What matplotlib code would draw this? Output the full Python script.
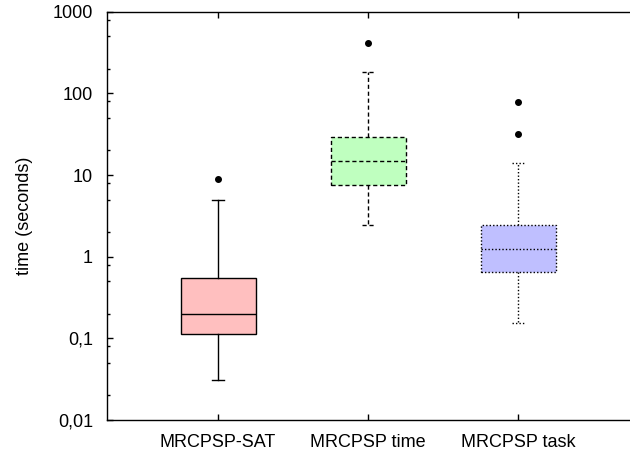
import matplotlib
matplotlib.use("Agg")
import matplotlib.pyplot as plt
from matplotlib.ticker import LogLocator, FixedLocator, FixedFormatter, NullFormatter

plt.rcParams['font.family'] = ['Liberation Sans', 'DejaVu Sans']

labels = ["MRCPSP-SAT", "MRCPSP time", "MRCPSP task"]
whislo = [0.0306, 2.44, 0.153]
q1 = [0.113, 7.55, 0.649]
med = [0.199, 14.7, 1.23]
q3 = [0.548, 29.2, 2.44]
whishi = [4.9, 183, 14.2]
fliers = [[8.9], [417], [79, 31.8]]

colors = ["#ffbfbf", "#bfffbf", "#bfbfff"]
styles = ["-", (0, (3, 2)), (0, (1, 1.5))]

stats = []
for i in range(3):
    stats.append(dict(label=labels[i], whislo=whislo[i], q1=q1[i], med=med[i],
                      q3=q3[i], whishi=whishi[i], fliers=fliers[i]))

fig = plt.figure(figsize=(6.3, 4.5), dpi=100)
ax = fig.add_axes([107/630, 30/450, 522/630, 408.3/450])

for i in range(3):
    ls = styles[i]
    ax.bxp([stats[i]], positions=[i + 1], widths=0.5, patch_artist=True,
           capwidths=0.08,
           boxprops=dict(facecolor=colors[i], edgecolor="black", linewidth=1, linestyle=ls),
           medianprops=dict(color="black", linewidth=1, linestyle=ls),
           whiskerprops=dict(color="black", linewidth=1, linestyle=ls),
           capprops=dict(color="black", linewidth=1, linestyle=ls),
           flierprops=dict(marker="o", markerfacecolor="black", markeredgecolor="black",
                           markersize=4, linestyle="none"))

ax.set_yscale("log")
ax.set_ylim(0.01, 1000)
ax.set_xlim(0.26, 3.74)

ax.yaxis.set_major_locator(FixedLocator([0.01, 0.1, 1, 10, 100, 1000]))
ax.yaxis.set_major_formatter(FixedFormatter(["0,01", "0,1", "1", "10", "100", "1000"]))
ax.yaxis.set_minor_locator(LogLocator(base=10, subs=[2, 5, 8]))
ax.yaxis.set_minor_formatter(NullFormatter())

ax.set_xticks([1, 2, 3])
ax.set_xticklabels(labels)

ax.tick_params(axis="both", which="major", direction="in", length=4, width=1,
               labelsize=13, top=True, right=False)
ax.tick_params(axis="y", which="major", pad=10)
ax.tick_params(axis="x", which="major", pad=10)
ax.tick_params(axis="y", which="minor", direction="in", length=2, width=1, right=False)
ax.tick_params(axis="x", which="minor", bottom=False, top=False)

ax.spines["right"].set_visible(False)
for s in ["left", "top", "bottom"]:
    ax.spines[s].set_linewidth(1)

ax.set_ylabel("time (seconds)", fontsize=13, labelpad=14)

fig.savefig("out.png", dpi=100)
